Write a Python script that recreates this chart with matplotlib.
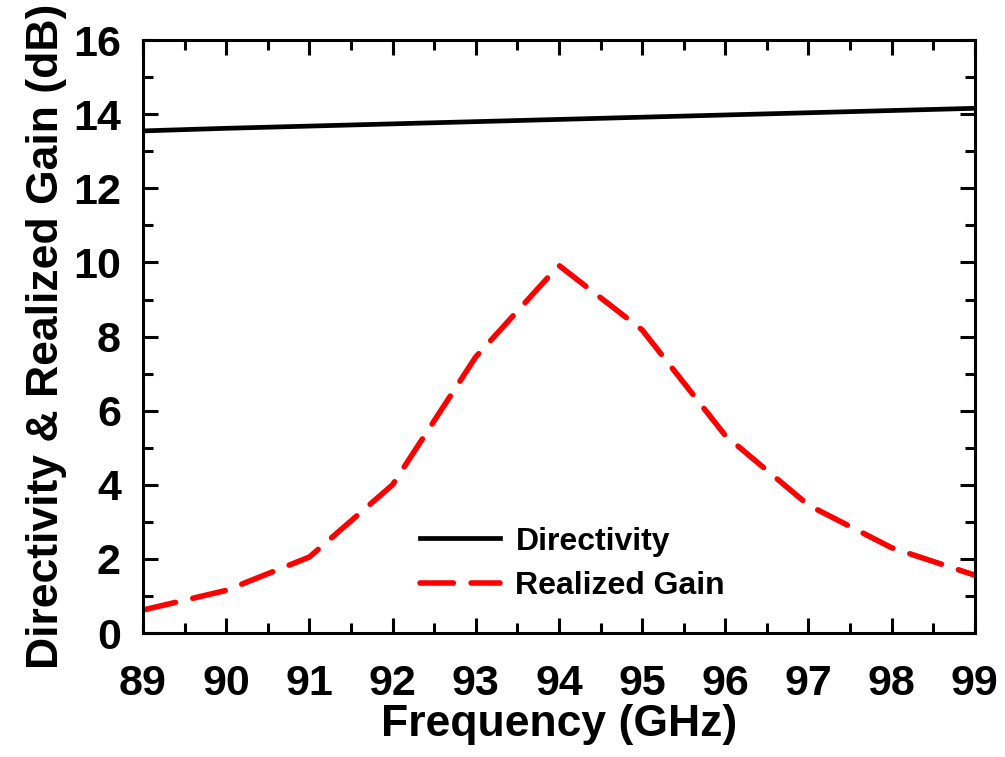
import matplotlib.pyplot as plt
from matplotlib.ticker import MultipleLocator

# data
freq = [89, 90, 91, 92, 93, 94, 95, 96, 97, 98, 99]
directivity = [13.55, 13.62, 13.68, 13.74, 13.80, 13.86, 13.92, 13.98, 14.04, 14.10, 14.16]
realized_gain = [0.62, 1.15, 2.05, 4.0, 7.45, 9.92, 8.18, 5.33, 3.45, 2.3, 1.56]

plt.rcParams['font.family'] = ['Liberation Sans', 'DejaVu Sans']
plt.rcParams['font.weight'] = 'bold'

fig = plt.figure(figsize=(10.05, 7.57), dpi=100)
ax = fig.add_axes([0.1423, 0.1638, 0.8277, 0.7832])

ax.plot(freq, directivity, color='black', lw=3.4, label='Directivity')
ax.plot(freq, realized_gain, color='red', lw=4.0, dashes=(6, 3.2),
        dash_capstyle='round', label='Realized Gain')

ax.set_xlim(89, 99)
ax.set_ylim(0, 16)
ax.xaxis.set_major_locator(MultipleLocator(1))
ax.xaxis.set_minor_locator(MultipleLocator(0.5))
ax.yaxis.set_major_locator(MultipleLocator(2))
ax.yaxis.set_minor_locator(MultipleLocator(1))
ax.tick_params(which='both', direction='in', top=True, right=True, width=2.2)
ax.tick_params(which='major', length=11, labelsize=31)
ax.tick_params(which='minor', length=7)
ax.tick_params(axis='x', which='major', pad=22)
ax.tick_params(axis='y', which='major', pad=16)
for lab in ax.get_xticklabels() + ax.get_yticklabels():
    lab.set_fontweight('bold')
for sp in ax.spines.values():
    sp.set_linewidth(2.2)

ax.set_xlabel('Frequency (GHz)', fontsize=32, fontweight='bold', labelpad=0)
ax.set_ylabel('Directivity & Realized Gain (dB)', fontsize=32, fontweight='bold', labelpad=4)

leg = ax.legend(loc='upper left', bbox_to_anchor=(0.298, 0.228), frameon=False,
                fontsize=23, handlelength=2.5, handletextpad=0.5, labelspacing=0.45)
for t in leg.get_texts():
    t.set_fontweight('bold')

fig.savefig('out.png', dpi=100)
